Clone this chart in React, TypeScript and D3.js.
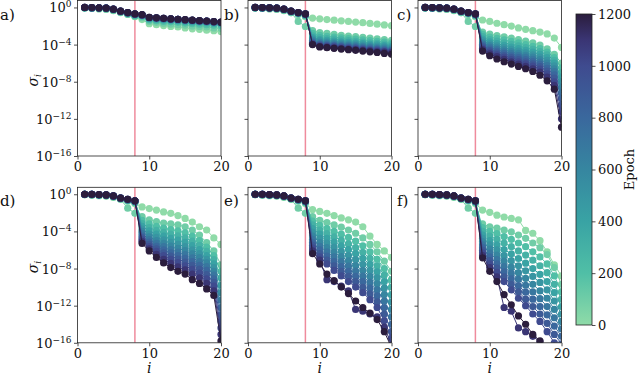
import React, { useEffect, useRef } from "react";
import * as d3 from "d3";

const WIDTH = 640;
const HEIGHT = 375;
const FONT = "'DejaVu Serif', 'Liberation Serif', serif";
const PANEL_W = 143.5;
const PANEL_H = 155.5;
const COL_LEFT = [77.5, 248, 418];
const ROW_TOP = [0.5, 187.3];
const Y_DOMAIN = [-16, 0.75]; // log10(sigma)
const RED_LINE_AT = 8;

// epochs drawn, light -> dark
const EPOCHS = [0, 100, 200, 300, 400, 500, 600, 700, 800, 900, 1000, 1100, 1200];
const SV_INDEX = [1, 2, 3, 4, 5, 6, 7, 8, 9, 10, 11, 12, 13, 14, 15, 16, 17, 18, 19, 20];
const X_TICKS = [0, 10, 20];
const Y_TICKS = [0, -4, -8, -12, -16];
const CBAR_TICKS = [0, 200, 400, 600, 800, 1000, 1200];

// colormap (mako reversed, clipped)
const CMAP_STOPS = [0, 200, 400, 600, 800, 1000, 1100, 1200];
const CMAP_COLORS = ["#8fdba8", "#50bfa6", "#39a3a4", "#3686a0", "#3a689d", "#3f4b8f", "#3a3574", "#2b1d3d"];

// log10 of the first eight singular values, per epoch
const HEAD = [
  [-0.05, -0.1, -0.16, -0.22, -0.35, -0.55, -0.75, -1.0],
  [-0.04, -0.08, -0.12, -0.17, -0.3, -0.55, -1.5, -2.05],
  [-0.03, -0.05, -0.09, -0.13, -0.25, -0.48, -0.68, -0.9],
  [-0.02, -0.04, -0.07, -0.11, -0.22, -0.45, -0.62, -0.8],
  [-0.02, -0.03, -0.06, -0.1, -0.21, -0.44, -0.6, -0.77],
  [-0.01, -0.03, -0.06, -0.09, -0.2, -0.43, -0.59, -0.75],
  [-0.01, -0.02, -0.05, -0.08, -0.2, -0.42, -0.58, -0.74],
  [-0.01, -0.02, -0.05, -0.08, -0.19, -0.42, -0.57, -0.73],
  [-0.01, -0.02, -0.05, -0.08, -0.19, -0.41, -0.57, -0.72],
  [0, -0.02, -0.04, -0.07, -0.19, -0.41, -0.56, -0.71],
  [0, -0.01, -0.04, -0.07, -0.18, -0.4, -0.56, -0.71],
  [0, -0.01, -0.04, -0.07, -0.18, -0.4, -0.55, -0.7],
  [0, -0.01, -0.04, -0.07, -0.18, -0.4, -0.55, -0.7],
];
const HEAD_A = [
  [-0.05, -0.1, -0.16, -0.22, -0.35, -0.55, -0.75, -1.0],
  [-0.04, -0.08, -0.12, -0.17, -0.3, -0.5, -0.7, -0.92],
  ...HEAD.slice(2),
];

// log10 of singular values i = 9..20, per epoch
const TAIL_A = [
  [-1.3, -1.75, -1.85, -1.95, -2.05, -2.1, -2.2, -2.3, -2.35, -2.45, -2.5, -2.6],
  [-1.1, -1.5, -1.6, -1.7, -1.8, -1.85, -1.9, -2.0, -2.05, -2.1, -2.2, -2.25],
  [-0.95, -1.35, -1.42, -1.5, -1.55, -1.6, -1.68, -1.74, -1.8, -1.85, -1.9, -1.95],
  [-0.88, -1.25, -1.3, -1.36, -1.42, -1.47, -1.52, -1.58, -1.63, -1.68, -1.73, -1.78],
  [-0.84, -1.18, -1.24, -1.29, -1.35, -1.4, -1.45, -1.5, -1.55, -1.6, -1.65, -1.7],
  [-0.82, -1.14, -1.2, -1.25, -1.3, -1.35, -1.4, -1.45, -1.5, -1.55, -1.6, -1.66],
  [-0.81, -1.12, -1.17, -1.22, -1.27, -1.32, -1.37, -1.42, -1.47, -1.52, -1.57, -1.63],
  [-0.8, -1.1, -1.15, -1.2, -1.25, -1.3, -1.35, -1.4, -1.45, -1.5, -1.55, -1.61],
  [-0.8, -1.09, -1.14, -1.19, -1.24, -1.29, -1.34, -1.39, -1.44, -1.49, -1.54, -1.6],
  [-0.79, -1.08, -1.13, -1.18, -1.23, -1.28, -1.33, -1.38, -1.43, -1.48, -1.53, -1.6],
  [-0.79, -1.08, -1.13, -1.18, -1.23, -1.28, -1.33, -1.38, -1.43, -1.48, -1.53, -1.59],
  [-0.79, -1.07, -1.12, -1.17, -1.22, -1.27, -1.32, -1.37, -1.42, -1.47, -1.52, -1.59],
  [-0.78, -1.07, -1.12, -1.17, -1.22, -1.27, -1.32, -1.37, -1.42, -1.47, -1.52, -1.58],
];
const TAIL_B = [
  [-1.14, -1.22, -1.3, -1.37, -1.44, -1.5, -1.57, -1.64, -1.72, -1.8, -1.88, -1.96],
  [-2.5, -2.7, -2.8, -2.9, -3.0, -3.08, -3.15, -3.22, -3.3, -3.38, -3.45, -3.55],
  [-2.8, -3.0, -3.1, -3.2, -3.28, -3.35, -3.42, -3.5, -3.57, -3.64, -3.72, -3.8],
  [-3.05, -3.25, -3.35, -3.42, -3.5, -3.58, -3.65, -3.72, -3.8, -3.87, -3.94, -4.0],
  [-3.25, -3.45, -3.55, -3.62, -3.7, -3.77, -3.84, -3.9, -3.97, -4.04, -4.1, -4.18],
  [-3.4, -3.6, -3.7, -3.78, -3.85, -3.92, -3.98, -4.05, -4.12, -4.18, -4.25, -4.32],
  [-3.55, -3.75, -3.83, -3.9, -3.98, -4.05, -4.12, -4.18, -4.25, -4.32, -4.38, -4.45],
  [-3.68, -3.88, -3.95, -4.02, -4.1, -4.16, -4.22, -4.3, -4.36, -4.42, -4.5, -4.56],
  [-3.78, -3.98, -4.06, -4.12, -4.2, -4.26, -4.32, -4.4, -4.46, -4.52, -4.6, -4.66],
  [-3.86, -4.06, -4.14, -4.2, -4.28, -4.34, -4.4, -4.48, -4.54, -4.6, -4.68, -4.74],
  [-3.92, -4.14, -4.22, -4.28, -4.35, -4.42, -4.48, -4.55, -4.62, -4.68, -4.75, -4.82],
  [-3.97, -4.2, -4.28, -4.35, -4.42, -4.48, -4.55, -4.62, -4.68, -4.75, -4.82, -4.9],
  [-4.0, -4.25, -4.33, -4.4, -4.48, -4.55, -4.62, -4.7, -4.78, -4.85, -4.95, -5.05],
];
const TAIL_C = [
  [-1.35, -1.5, -1.7, -1.85, -2.0, -2.2, -2.35, -2.5, -2.65, -2.85, -3.3, -4.3],
  [-2.65, -2.88, -3.02, -3.16, -3.3, -3.46, -3.62, -3.82, -4.05, -4.45, -5.05, -6.0],
  [-2.9, -3.18, -3.34, -3.5, -3.65, -3.82, -4.0, -4.2, -4.44, -4.8, -5.4, -6.5],
  [-3.15, -3.45, -3.63, -3.8, -3.97, -4.14, -4.32, -4.52, -4.76, -5.1, -5.7, -7.0],
  [-3.4, -3.7, -3.9, -4.08, -4.26, -4.44, -4.62, -4.82, -5.06, -5.4, -6.0, -7.5],
  [-3.6, -3.92, -4.13, -4.33, -4.52, -4.7, -4.9, -5.1, -5.35, -5.7, -6.3, -8.0],
  [-3.8, -4.12, -4.35, -4.56, -4.76, -4.95, -5.15, -5.36, -5.62, -5.98, -6.6, -8.6],
  [-3.95, -4.3, -4.55, -4.78, -4.98, -5.18, -5.38, -5.6, -5.88, -6.25, -6.9, -9.2],
  [-4.1, -4.48, -4.74, -4.98, -5.2, -5.4, -5.62, -5.84, -6.12, -6.55, -7.25, -9.8],
  [-4.25, -4.65, -4.92, -5.18, -5.4, -5.62, -5.85, -6.08, -6.38, -6.85, -7.6, -10.5],
  [-4.4, -4.82, -5.1, -5.38, -5.62, -5.85, -6.08, -6.32, -6.65, -7.15, -8.0, -11.2],
  [-4.55, -5.0, -5.3, -5.6, -5.85, -6.1, -6.35, -6.6, -6.95, -7.5, -8.4, -12.0],
  [-4.7, -5.2, -5.55, -5.85, -6.1, -6.35, -6.6, -6.9, -7.3, -7.9, -8.8, -12.9],
];
const TAIL_D = [
  [-1.36, -1.54, -1.7, -1.9, -2.05, -2.3, -2.6, -3.0, -3.5, -3.85, -4.7, -5.4],
  [-2.4, -2.75, -2.95, -3.1, -3.2, -3.3, -3.5, -3.85, -4.4, -5.2, -6.1, -7.6],
  [-2.8, -3.2, -3.45, -3.65, -3.8, -3.95, -4.15, -4.5, -5.0, -5.7, -6.6, -8.3],
  [-3.15, -3.6, -3.88, -4.1, -4.3, -4.48, -4.7, -5.05, -5.5, -6.15, -7.05, -9.0],
  [-3.45, -3.95, -4.28, -4.52, -4.75, -4.95, -5.18, -5.52, -5.95, -6.6, -7.5, -9.8],
  [-3.75, -4.3, -4.65, -4.92, -5.18, -5.4, -5.65, -5.98, -6.4, -7.0, -7.9, -10.6],
  [-4.0, -4.6, -4.98, -5.3, -5.58, -5.82, -6.08, -6.42, -6.82, -7.4, -8.3, -11.4],
  [-4.25, -4.88, -5.3, -5.65, -5.95, -6.22, -6.5, -6.85, -7.25, -7.8, -8.7, -12.2],
  [-4.5, -5.15, -5.6, -5.98, -6.3, -6.6, -6.9, -7.25, -7.65, -8.2, -9.1, -13.0],
  [-4.7, -5.4, -5.88, -6.3, -6.65, -6.98, -7.3, -7.65, -8.05, -8.65, -9.5, -13.7],
  [-4.9, -5.65, -6.15, -6.62, -7.0, -7.35, -7.7, -8.1, -8.5, -9.1, -9.9, -14.4],
  [-5.1, -5.88, -6.48, -7.0, -7.45, -7.82, -8.15, -8.6, -9.0, -9.6, -10.4, -15.1],
  [-5.3, -6.1, -6.8, -7.4, -7.9, -8.3, -8.6, -9.2, -9.6, -10.2, -10.9, -15.8],
];
const TAIL_E = [
  [-1.65, -1.85, -2.05, -2.3, -2.55, -2.75, -3.0, -3.5, -4.5, -5.4, -6.1, -6.8],
  [-2.4, -2.8, -3.05, -3.3, -3.55, -3.85, -4.2, -4.7, -5.4, -6.2, -7.2, -8.3],
  [-2.9, -3.35, -3.7, -4.0, -4.3, -4.65, -5.05, -5.55, -6.2, -7.0, -8.0, -9.2],
  [-3.3, -3.85, -4.25, -4.6, -4.95, -5.35, -5.75, -6.25, -6.9, -7.7, -8.7, -10.0],
  [-3.7, -4.3, -4.75, -5.15, -5.55, -5.95, -6.4, -6.9, -7.55, -8.35, -9.4, -10.8],
  [-4.1, -4.75, -5.25, -5.7, -6.15, -6.58, -7.05, -7.55, -8.2, -9.0, -10.1, -11.6],
  [-4.5, -5.2, -5.75, -6.25, -6.72, -7.18, -7.68, -8.2, -8.85, -9.65, -10.8, -12.4],
  [-4.85, -5.6, -6.2, -6.75, -7.25, -7.75, -8.28, -8.82, -9.5, -10.3, -11.5, -13.2],
  [-5.2, -6.0, -6.65, -7.25, -7.78, -8.3, -8.85, -9.42, -10.1, -10.95, -12.2, -14.0],
  [-5.5, -6.4, -7.1, -7.72, -8.3, -8.85, -9.42, -10.02, -10.72, -11.6, -12.9, -14.8],
  [-5.8, -6.75, -7.5, -8.2, -8.8, -9.4, -10.0, -10.6, -11.35, -12.2, -13.6, -15.5],
  [-6.1, -7.1, -9.2, -9.4, -9.9, -10.4, -12.4, -12.6, -12.9, -13.2, -14.3, -16.2],
  [-6.4, -7.5, -8.6, -9.3, -10.0, -10.7, -11.5, -12.2, -12.8, -13.5, -14.8, -16.5],
];
const TAIL_F = [
  [-1.7, -1.95, -2.25, -2.45, -2.6, -2.75, -3.9, -4.2, -5.0, -6.2, -7.6, -8.8],
  [-3.2, -3.5, -3.65, -3.85, -4.05, -4.4, -4.75, -5.25, -5.75, -6.5, -7.9, -9.7],
  [-3.6, -4.0, -4.25, -4.55, -4.85, -5.25, -5.65, -6.2, -6.75, -7.5, -8.8, -10.5],
  [-4.0, -4.5, -4.85, -5.25, -5.65, -6.1, -6.55, -7.1, -7.7, -8.45, -9.7, -11.3],
  [-4.4, -5.0, -5.45, -5.95, -6.42, -6.92, -7.42, -8.0, -8.62, -9.4, -10.6, -12.1],
  [-4.75, -5.45, -6.0, -6.6, -7.15, -7.7, -8.25, -8.85, -9.5, -10.3, -11.5, -12.9],
  [-5.1, -5.9, -6.55, -7.2, -7.85, -8.45, -9.05, -9.7, -10.4, -11.2, -12.4, -13.7],
  [-5.45, -6.35, -7.05, -7.8, -8.5, -9.15, -9.8, -10.5, -11.25, -12.1, -13.3, -14.5],
  [-5.75, -6.75, -7.5, -8.35, -9.1, -9.85, -10.55, -11.3, -12.1, -13.0, -14.2, -15.3],
  [-6.05, -7.15, -7.95, -8.9, -9.7, -10.5, -11.3, -12.1, -12.9, -13.9, -15.1, -16.1],
  [-6.3, -7.5, -8.4, -9.4, -10.3, -11.2, -12.0, -12.9, -13.7, -14.8, -16.0, -17.0],
  [-6.6, -7.9, -8.9, -12.2, -12.6, -14.4, -14.8, -15.3, -15.9, -16.6, -17.0, -18.0],
  [-6.85, -8.3, -9.4, -10.8, -11.9, -13.1, -14.0, -15.1, -15.8, -16.6, -17.2, -18.0],
];

const PANEL_LABELS = ["a)", "b)", "c)", "d)", "e)", "f)"];
const PANEL_HEADS = [HEAD_A, HEAD, HEAD, HEAD, HEAD, HEAD];
const PANEL_TAILS = [TAIL_A, TAIL_B, TAIL_C, TAIL_D, TAIL_E, TAIL_F];
const LABEL_X = [0, 224, 397];

const colorScale = d3
  .scaleLinear<string>()
  .domain(CMAP_STOPS)
  .range(CMAP_COLORS)
  .interpolate(d3.interpolateRgb);

const drawPanel = (svg, k) => {
  const col = k % 3;
  const row = Math.floor(k / 3);
  const left = COL_LEFT[col];
  const top = ROW_TOP[row];
  const xScale = d3.scaleLinear().domain([0, 20]).range([0, PANEL_W]);
  const yScale = d3.scaleLinear().domain(Y_DOMAIN).range([PANEL_H, 0]);
  const line = d3
    .line<[number, number]>()
    .x((d) => xScale(d[0]))
    .y((d) => yScale(d[1]));

  const g = svg.append("g").attr("transform", `translate(${left},${top})`);
  g.append("clipPath")
    .attr("id", `clip-${k}`)
    .append("rect")
    .attr("width", PANEL_W)
    .attr("height", PANEL_H);

  const plot = g.append("g").attr("clip-path", `url(#clip-${k})`);
  plot
    .append("line")
    .attr("x1", xScale(RED_LINE_AT))
    .attr("x2", xScale(RED_LINE_AT))
    .attr("y1", 0)
    .attr("y2", PANEL_H)
    .attr("stroke", "#ef8b9d")
    .attr("stroke-width", 1.5);

  const heads = PANEL_HEADS[k];
  const tails = PANEL_TAILS[k];
  EPOCHS.forEach((ep, e) => {
    const vals = heads[e].concat(tails[e]);
    const pts: [number, number][] = SV_INDEX.map((i, j) => [i, vals[j]]);
    const c = colorScale(ep);
    plot
      .append("path")
      .attr("d", line(pts))
      .attr("fill", "none")
      .attr("stroke", c)
      .attr("stroke-width", 1);
    plot
      .append("g")
      .selectAll("circle")
      .data(pts)
      .join("circle")
      .attr("cx", (d) => xScale(d[0]))
      .attr("cy", (d) => yScale(d[1]))
      .attr("r", 3.6)
      .attr("fill", c);
  });

  // frame
  g.append("rect")
    .attr("width", PANEL_W)
    .attr("height", PANEL_H)
    .attr("fill", "none")
    .attr("stroke", "#222")
    .attr("stroke-width", 0.8);

  // x axis
  const xAxis = g
    .append("g")
    .attr("transform", `translate(0,${PANEL_H})`)
    .call(d3.axisBottom(xScale).tickValues(X_TICKS).tickSize(3.5).tickPadding(2));
  xAxis.select(".domain").remove();
  xAxis.selectAll("line").attr("stroke", "#222").attr("stroke-width", 0.8);
  xAxis.selectAll("text").style("font-family", FONT).style("font-size", "13px").attr("fill", "#111");

  // y axis
  const yAxis = g
    .append("g")
    .call(d3.axisLeft(yScale).tickValues(Y_TICKS).tickSize(3.5).tickFormat(() => ""));
  yAxis.select(".domain").remove();
  yAxis.selectAll("line").attr("stroke", "#222").attr("stroke-width", 0.8);

  if (col === 0) {
    Y_TICKS.forEach((t) => {
      const txt = g
        .append("text")
        .attr("x", -6)
        .attr("y", yScale(t) + 5)
        .attr("text-anchor", "end")
        .style("font-family", FONT)
        .style("font-size", "13px")
        .attr("fill", "#111");
      txt.append("tspan").text("10");
      txt
        .append("tspan")
        .attr("dy", -5)
        .style("font-size", "9px")
        .text(t === 0 ? "0" : "\u2212" + Math.abs(t));
    });
    const yl = g
      .append("text")
      .attr("transform", `translate(-40,${PANEL_H / 2 + 2}) rotate(-90)`)
      .attr("text-anchor", "middle")
      .style("font-family", FONT)
      .style("font-size", "14px")
      .style("font-style", "italic")
      .attr("fill", "#111");
    yl.append("tspan").text("\u03c3");
    yl.append("tspan").attr("dy", 3).style("font-size", "9px").text("i");
  }
  if (row === 1) {
    g.append("text")
      .attr("x", PANEL_W / 2)
      .attr("y", PANEL_H + 30)
      .attr("text-anchor", "middle")
      .style("font-family", FONT)
      .style("font-size", "14px")
      .style("font-style", "italic")
      .attr("fill", "#111")
      .text("i");
  }

  svg
    .append("text")
    .attr("x", LABEL_X[col])
    .attr("y", top + 19)
    .style("font-family", FONT)
    .style("font-size", "15px")
    .attr("fill", "#111")
    .text(PANEL_LABELS[k]);
};

const drawColorbar = (svg) => {
  const cbX = 576;
  const cbW = 16;
  const cbTop = 14;
  const cbBottom = 325;
  const cScale = d3.scaleLinear().domain([0, 1200]).range([cbBottom, cbTop]);
  const grad = svg
    .append("defs")
    .append("linearGradient")
    .attr("id", "cbar-grad")
    .attr("x1", 0)
    .attr("y1", 1)
    .attr("x2", 0)
    .attr("y2", 0);
  CMAP_STOPS.forEach((s, i) => {
    grad
      .append("stop")
      .attr("offset", s / 1200)
      .attr("stop-color", CMAP_COLORS[i]);
  });
  svg
    .append("rect")
    .attr("x", cbX)
    .attr("y", cbTop)
    .attr("width", cbW)
    .attr("height", cbBottom - cbTop)
    .attr("fill", "url(#cbar-grad)")
    .attr("stroke", "#222")
    .attr("stroke-width", 0.8);
  const ax = svg
    .append("g")
    .attr("transform", `translate(${cbX + cbW},0)`)
    .call(
      d3
        .axisRight(cScale)
        .tickValues(CBAR_TICKS)
        .tickSize(3.5)
        .tickPadding(2.5)
        .tickFormat(d3.format("d"))
    );
  ax.select(".domain").remove();
  ax.selectAll("line").attr("stroke", "#222").attr("stroke-width", 0.8);
  ax.selectAll("text").style("font-family", FONT).style("font-size", "13px").attr("fill", "#111");
  svg
    .append("text")
    .attr("transform", `translate(634,${(cbTop + cbBottom) / 2}) rotate(-90)`)
    .attr("text-anchor", "middle")
    .style("font-family", FONT)
    .style("font-size", "13px")
    .attr("fill", "#111")
    .text("Epoch");
};

export default function App() {
  const ref = useRef<SVGSVGElement>(null);
  useEffect(() => {
    const svg = d3.select(ref.current);
    svg.selectAll("*").remove();
    for (let k = 0; k < 6; k++) drawPanel(svg, k);
    drawColorbar(svg);
  }, []);
  return (
    <div style={{ position: "fixed", left: 0, top: 0 }}>
      <svg ref={ref} width={WIDTH} height={HEIGHT} style={{ display: "block", background: "white" }} />
    </div>
  );
}
